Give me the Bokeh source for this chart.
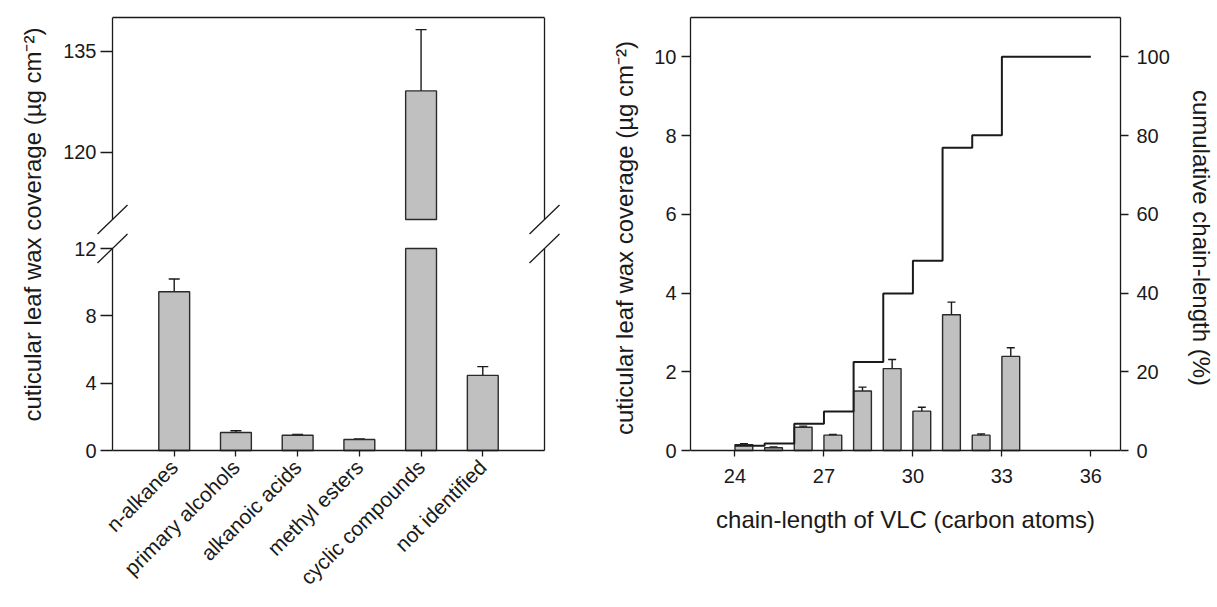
from math import pi
from bokeh.plotting import figure
from bokeh.layouts import row
from bokeh.models import (ColumnDataSource, Range1d, LinearAxis, FixedTicker, Whisker, TeeHead,
                          Label)
from bokeh.transform import dodge
from bokeh.embed import file_html
from bokeh.resources import INLINE

# ---------------- data: wax classes (left panel) ----------------
classes = ["n-alkanes", "primary alcohols", "alkanoic acids", "methyl esters",
           "cyclic compounds", "not identified"]
class_mean = [9.43, 1.07, 0.91, 0.65, 129.1, 4.46]
class_err = [0.76, 0.10, 0.05, 0.04, 9.1, 0.52]
class_pos = list(range(1, len(classes) + 1))

# broken y axis segments
low_range = [0, 12]
up_range = [110, 140]
low_ticks = [0, 4, 8, 12]
up_ticks = [120, 135]

# ---------------- data: chain lengths (right panel) ----------------
chain = [24, 25, 26, 27, 28, 29, 30, 31, 32, 33]
chain_mean = [0.15, 0.07, 0.59, 0.39, 1.51, 2.08, 1.00, 3.45, 0.39, 2.39]
chain_err = [0.02, 0.02, 0.03, 0.02, 0.10, 0.23, 0.10, 0.32, 0.03, 0.22]
cum_x = [24, 25, 26, 27, 28, 29, 30, 31, 32, 33, 36]
cum_pct = [1.2, 1.8, 6.8, 9.9, 22.5, 39.9, 48.2, 76.9, 80.1, 100.0, 100.0]
chain_ticks = [24, 27, 30, 33, 36]
cov_range = [0, 11]
cov_ticks = [0, 2, 4, 6, 8, 10]
pct_range = [0, 110]
pct_ticks = [0, 20, 40, 60, 80, 100]

FONT = "Liberation Sans"
INK = "#1a1a1a"
BAR_FILL = "#c0c0c0"
BAR_LINE = "#2a2a2a"
Y_TITLE = "cuticular leaf wax coverage (\u00b5g cm\u207b\u00b2)"

# ---------------- layout constants (pixels) ----------------
CANVAS_H = 607
LEFT_W = 608
RIGHT_W = 609
FRAME_LEFT = 112        # x of the left frame line of the left panel
PX_X = 432 / 7          # pixels per category step
FRAME_TOP = 17          # y of the top frame line
ZERO_Y = 450            # y of value 0
FRAME_BOTTOM = 458      # bottom of both plot areas (a little below zero)
SEG_PX = 202            # pixels used by each segment of the broken axis
TITLE_X, TITLE_Y = 31.7, 224
TICK_LEN = 6


def style_axis(ax, label_size="20px"):
    ax.axis_line_color = INK
    ax.axis_line_width = 1.3
    ax.major_tick_line_color = INK
    ax.major_tick_line_width = 1.3
    ax.minor_tick_line_color = None
    ax.minor_tick_out = 0
    ax.minor_tick_in = 0
    ax.major_tick_in = 0
    ax.major_label_text_font = FONT
    ax.major_label_text_font_size = label_size
    ax.major_label_text_color = INK
    ax.axis_label_text_font = FONT
    ax.axis_label_text_font_size = "24px"
    ax.axis_label_text_font_style = "normal"
    ax.axis_label_text_color = INK
    return ax


def bottom_ticks(ax):
    # ticks that start at the zero line (above the plot-area bottom) and point down
    ax.axis_line_color = None
    ax.major_tick_in = FRAME_BOTTOM - ZERO_Y
    ax.major_tick_out = TICK_LEN - (FRAME_BOTTOM - ZERO_Y)
    return ax


def line_only(ax):
    ax.ticker = FixedTicker(ticks=[])
    ax.axis_line_color = INK
    ax.axis_line_width = 1.3
    ax.major_tick_line_color = None
    ax.minor_tick_line_color = None
    ax.minor_tick_out = 0
    ax.minor_tick_in = 0
    ax.major_tick_out = 0
    ax.major_tick_in = 0
    ax.major_label_standoff = 0
    return ax


def base_fig(**kw):
    p = figure(output_backend="svg", toolbar_location=None, title=None, **kw)
    p.outline_line_color = None
    p.xgrid.visible = False
    p.ygrid.visible = False
    p.background_fill_color = "white"
    p.border_fill_color = "white"
    return p


# ---------------- left panel: broken y axis on two scales ----------------
n = len(classes)
x_lo = 0 - FRAME_LEFT / PX_X
x_hi = x_lo + LEFT_W / PX_X
low_px = SEG_PX / (low_range[1] - low_range[0])
up_px = SEG_PX / (up_range[1] - up_range[0])
y_lo = -(FRAME_BOTTOM - ZERO_Y) / low_px
y_hi = (ZERO_Y - FRAME_TOP) / low_px
up_lo = up_range[1] - (FRAME_BOTTOM - FRAME_TOP) / up_px

left = base_fig(width=LEFT_W, height=CANVAS_H, x_range=Range1d(x_lo, x_hi),
                y_range=Range1d(y_lo, y_hi), min_border_left=0, min_border_right=0,
                min_border_top=FRAME_TOP, min_border_bottom=CANVAS_H - FRAME_BOTTOM,
                x_axis_location=None, y_axis_location=None)
left.extra_y_ranges = {"up": Range1d(up_lo, up_range[1])}

# lower segment bars (truncated at the break)
low_src = ColumnDataSource(dict(pos=class_pos, top=[min(v, low_range[1]) for v in class_mean]))
left.vbar(x="pos", top="top", bottom=0, width=0.5, source=low_src,
          fill_color=BAR_FILL, line_color=BAR_LINE, line_width=1.4)
low_idx = [i for i, v in enumerate(class_mean) if v + class_err[i] < low_range[1]]
low_err_src = ColumnDataSource(dict(
    pos=[class_pos[i] for i in low_idx],
    hi=[class_mean[i] + class_err[i] for i in low_idx],
    lo=[class_mean[i] - class_err[i] for i in low_idx],
))
left.add_layout(Whisker(base="pos", upper="hi", lower="lo", source=low_err_src,
                        dimension="height", line_color=INK, line_width=1.4,
                        upper_head=TeeHead(size=11, line_color=INK, line_width=1.4),
                        lower_head=TeeHead(size=11, line_color=INK, line_width=1.4)))

# upper segment bars (start at the break)
up_idx = [i for i, v in enumerate(class_mean) if v > up_range[0]]
up_src = ColumnDataSource(dict(
    pos=[class_pos[i] for i in up_idx],
    top=[class_mean[i] for i in up_idx],
    hi=[class_mean[i] + class_err[i] for i in up_idx],
    lo=[class_mean[i] - class_err[i] for i in up_idx],
))
left.vbar(x="pos", top="top", bottom=up_range[0], width=0.5, source=up_src, y_range_name="up",
          fill_color=BAR_FILL, line_color=BAR_LINE, line_width=1.4)
left.add_layout(Whisker(base="pos", upper="hi", lower="lo", source=up_src, dimension="height",
                        y_range_name="up", line_color=INK, line_width=1.4,
                        upper_head=TeeHead(size=11, line_color=INK, line_width=1.4),
                        lower_head=TeeHead(size=11, line_color=INK, line_width=1.4)))

# category ticks and rotated labels
x_lab = style_axis(LinearAxis(ticker=FixedTicker(ticks=class_pos),
                              major_label_overrides={p: c for p, c in zip(class_pos, classes)}),
                   label_size="21px")
bottom_ticks(x_lab)
x_lab.major_label_orientation = pi / 4
x_lab.major_label_standoff = 5
left.add_layout(x_lab, "below")

# x axis line at zero, and the top frame line
left.add_layout(line_only(LinearAxis(bounds=(0, n + 1), fixed_location=0)), "above")
left.add_layout(line_only(LinearAxis(bounds=(0, n + 1))), "above")

# y axes of both segments
ax_low = style_axis(LinearAxis(ticker=FixedTicker(ticks=low_ticks), bounds=tuple(low_range),
                               fixed_location=0))
ax_low.major_tick_out = 12
ax_low.major_label_standoff = 4
left.add_layout(ax_low, "left")
ax_up = style_axis(LinearAxis(y_range_name="up", ticker=FixedTicker(ticks=up_ticks),
                              bounds=tuple(up_range), fixed_location=0))
ax_up.major_tick_out = 12
ax_up.major_label_standoff = 4
left.add_layout(ax_up, "left")

# right frame line, both segments
left.add_layout(line_only(LinearAxis(bounds=tuple(low_range), fixed_location=n + 1)), "right")
left.add_layout(line_only(LinearAxis(y_range_name="up", bounds=tuple(up_range),
                                     fixed_location=n + 1)), "right")

# y axis title
left.add_layout(Label(x=x_lo + TITLE_X / PX_X, y=(ZERO_Y - TITLE_Y) / low_px, text=Y_TITLE,
                      angle=pi / 2, text_align="center", text_baseline="middle",
                      text_font=FONT, text_font_size="24px", text_color=INK))

# break marks on both frame lines
dx = 15 / PX_X
dy_low = 14.5 / low_px
dy_up = 14.5 / up_px
edges = [0, n + 1]
left.segment(x0=[e - dx for e in edges], y0=[low_range[1] - dy_low] * 2,
             x1=[e + dx for e in edges], y1=[low_range[1] + dy_low] * 2,
             line_color=INK, line_width=1.3)
left.segment(x0=[e - dx for e in edges], y0=[up_range[0] - dy_up] * 2,
             x1=[e + dx for e in edges], y1=[up_range[0] + dy_up] * 2,
             line_color=INK, line_width=1.3, y_range_name="up")

# ---------------- right panel: chain-length distribution ----------------
cov_px = (ZERO_Y - FRAME_TOP) / (cov_range[1] - cov_range[0])
cov_lo = -(FRAME_BOTTOM - ZERO_Y) / cov_px
pct_scale = (pct_range[1] - pct_range[0]) / (cov_range[1] - cov_range[0])
right = base_fig(width=RIGHT_W, height=CANVAS_H, x_range=Range1d(22.5, 37),
                 y_range=Range1d(cov_lo, cov_range[1]),
                 min_border_left=80, min_border_right=97, min_border_top=FRAME_TOP,
                 min_border_bottom=CANVAS_H - FRAME_BOTTOM)
right.extra_y_ranges = {"pct": Range1d(cov_lo * pct_scale, pct_range[1])}

ch_src = ColumnDataSource(dict(
    chain=chain,
    mean=chain_mean,
    hi=[m + e for m, e in zip(chain_mean, chain_err)],
    lo=[m - e for m, e in zip(chain_mean, chain_err)],
))
right.vbar(x=dodge("chain", 0.3), top="mean", bottom=0, width=0.6, source=ch_src,
           fill_color=BAR_FILL, line_color=BAR_LINE, line_width=1.4)
right.add_layout(Whisker(base=dodge("chain", 0.3), upper="hi", lower="lo", source=ch_src,
                         dimension="height", line_color=INK, line_width=1.4,
                         upper_head=TeeHead(size=8, line_color=INK, line_width=1.4),
                         lower_head=TeeHead(size=8, line_color=INK, line_width=1.4)))
right.step(x=cum_x, y=cum_pct, mode="after", y_range_name="pct", line_color=INK, line_width=2)

right.xaxis.ticker = FixedTicker(ticks=chain_ticks)
style_axis(right.xaxis[0])
bottom_ticks(right.xaxis[0])
right.xaxis.major_label_standoff = 10
right.xaxis.axis_label = "chain-length of VLC (carbon atoms)"
right.xaxis.axis_label_standoff = 20
right.add_layout(line_only(LinearAxis(fixed_location=0)), "above")

right.yaxis.ticker = FixedTicker(ticks=cov_ticks)
style_axis(right.yaxis[0])
right.yaxis.bounds = tuple(cov_range)
right.yaxis.major_tick_out = 9
right.yaxis.axis_label = Y_TITLE
right.yaxis.axis_label_standoff = 13

pct_ax = LinearAxis(y_range_name="pct", ticker=FixedTicker(ticks=pct_ticks),
                    axis_label="cumulative chain-length (%)", bounds=tuple(pct_range))
style_axis(pct_ax)
pct_ax.major_tick_out = 8
pct_ax.major_label_standoff = 8
pct_ax.axis_label_standoff = 15
right.add_layout(pct_ax, "right")

right.add_layout(line_only(LinearAxis()), "above")

layout = row(left, right, spacing=0)

open("out.html", "w").write(file_html(layout, INLINE))
